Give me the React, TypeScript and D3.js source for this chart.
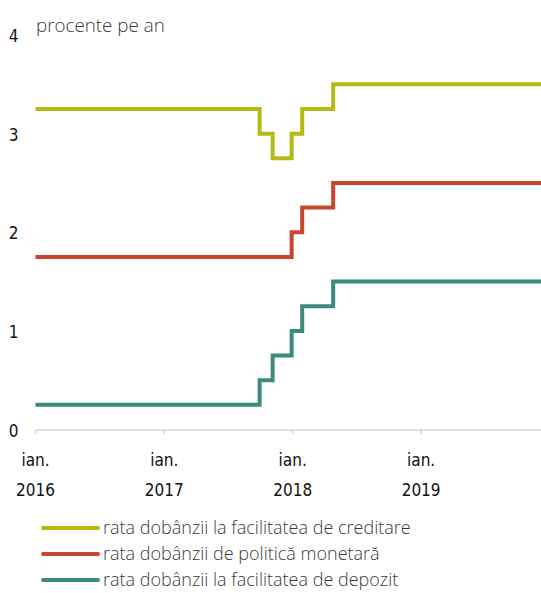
import React from "react";
import * as d3 from "d3";

const W = 541;
const H = 593;

const yTicks = [0, 1, 2, 3, 4];
const xTickDates = ["2016-01-01", "2017-01-01", "2018-01-01", "2019-01-01"];
const xTickLine1 = ["ian.", "ian.", "ian.", "ian."];
const xTickLine2 = ["2016", "2017", "2018", "2019"];

const seriesNames = [
  "rata dobânzii la facilitatea de creditare",
  "rata dobânzii de politică monetară",
  "rata dobânzii la facilitatea de depozit",
];
const seriesColors = ["#b6b912", "#c9452c", "#3d8a7d"];

// step change dates and values
const lendingDates = ["2016-01-01", "2017-09-29", "2017-11-05", "2017-12-29", "2018-01-28", "2018-04-26", "2019-12-31"];
const lendingValues = [3.25, 3.0, 2.75, 3.0, 3.25, 3.5, 3.5];
const policyDates = ["2016-01-01", "2017-12-29", "2018-01-28", "2018-04-26", "2019-12-31"];
const policyValues = [1.75, 2.0, 2.25, 2.5, 2.5];
const depositDates = ["2016-01-01", "2017-09-29", "2017-11-05", "2017-12-29", "2018-01-28", "2018-04-26", "2019-12-31"];
const depositValues = [0.25, 0.5, 0.75, 1.0, 1.25, 1.5, 1.5];

const parse = d3.timeParse("%Y-%m-%d");

export default function App() {
  const x = d3
    .scaleTime()
    .domain([parse("2016-01-01")!, parse("2018-01-01")!])
    .range([35.5, 292.7]);
  const y = d3.scaleLinear().domain([0, 4]).range([429.5, 35]);

  const series = [
    { dates: lendingDates, values: lendingValues },
    { dates: policyDates, values: policyValues },
    { dates: depositDates, values: depositValues },
  ];

  const line = d3
    .line<[Date, number]>()
    .x((d) => x(d[0]))
    .y((d) => y(d[1]))
    .curve(d3.curveStepAfter);

  const axisFont = "'DejaVu Sans', sans-serif";
  const axisStyle = { fontStretch: "condensed" as const };
  const textFont = "'Open Sans', 'Noto Sans', sans-serif";
  const axisY = y(0) + 0.5;

  return (
    <svg
      width={W}
      height={H}
      style={{ position: "absolute", left: 0, top: 0, display: "block", background: "#fff" }}
    >
      <defs>
        <clipPath id="plot">
          <rect x={0} y={0} width={W} height={H} />
        </clipPath>
      </defs>
      <text x={36} y={32} fontFamily={textFont} fontSize={18.8} fill="#3a3a3a" fontWeight={300}>
        procente pe an
      </text>

      {yTicks.map((t) => (
        <text
          key={t}
          x={13.5}
          y={y(t) + 7}
          textAnchor="middle"
          fontFamily={axisFont}
          style={axisStyle}
          fontSize={17}
          fill="#111"
        >
          {t}
        </text>
      ))}

      <line x1={x(parse("2016-01-01")!)} x2={W} y1={axisY} y2={axisY} stroke="#d6d6d6" strokeWidth={1.5} />
      {xTickDates.map((d, i) => {
        const px = x(parse(d)!);
        return (
          <g key={d}>
            <line x1={px} x2={px} y1={axisY} y2={axisY + 4} stroke="#d6d6d6" strokeWidth={1.5} />
            <text x={px} y={466} textAnchor="middle" fontFamily={axisFont} style={axisStyle} fontSize={17} fill="#111">
              {xTickLine1[i]}
            </text>
            <text x={px} y={496} textAnchor="middle" fontFamily={axisFont} style={axisStyle} fontSize={17} fill="#111">
              {xTickLine2[i]}
            </text>
          </g>
        );
      })}

      <g clipPath="url(#plot)">
        {series.map((s, i) => {
          const pts: [Date, number][] = s.dates.map((d, j) => [parse(d)!, s.values[j]]);
          return (
            <path
              key={i}
              d={line(pts) || ""}
              fill="none"
              stroke={seriesColors[i]}
              strokeWidth={4}
              strokeLinejoin="miter"
            />
          );
        })}
      </g>

      {seriesNames.map((n, i) => {
        const ly = 528 + i * 26;
        return (
          <g key={n}>
            <line x1={43} x2={98} y1={ly} y2={ly} stroke={seriesColors[i]} strokeWidth={4} strokeLinecap="round" />
            <text x={103} y={ly + 6} fontFamily={textFont} fontSize={18} fill="#3a3a3a" fontWeight={300}>
              {n}
            </text>
          </g>
        );
      })}
    </svg>
  );
}
